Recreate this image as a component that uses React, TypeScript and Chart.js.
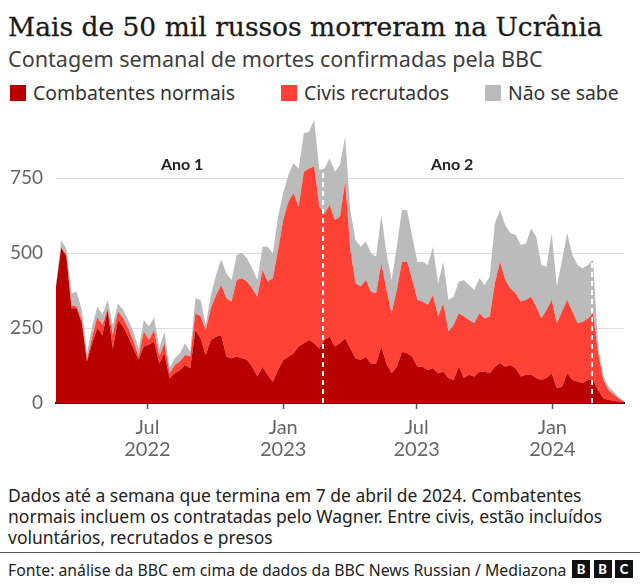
import React, { useEffect, useRef } from "react";
import { Chart, registerables } from "chart.js";

Chart.register(...registerables);

// ---- Data (weekly counts, weeks ending on Sundays) ----
const START_WEEK = "2022-02-27"; // first week-ending date; later points follow weekly

const combatentes = [
  388, 516, 490, 316, 316, 266, 138, 199, 249, 227, 310, 182, 277, 255, 221, 182, 144, 188, 194, 205,
  132, 166, 82, 99, 110, 127, 116, 243, 216, 160, 210, 221, 227, 155, 149, 155, 149, 144, 121, 88,
  121, 93, 71, 110, 143, 154, 166, 188, 199, 210, 199, 182, 210, 221, 188, 199, 216, 182, 149, 143,
  154, 132, 132, 188, 132, 99, 121, 171, 166, 154, 121, 121, 110, 116, 99, 105, 83, 77, 121, 83,
  94, 88, 105, 105, 99, 121, 133, 121, 127, 116, 88, 94, 94, 83, 77, 83, 99, 49, 55, 99,
  77, 72, 66, 77, 77, 43, 16, 10, 8, 5, 2,
];

const civisRecrutados = [
  0, 2, 5, 11, 5, 11, 6, 22, 37, 33, 3, 45, 28, 28, 28, 23, 11, 50, 16, 38,
  23, 33, 17, 28, 28, 33, 39, 56, 72, 83, 106, 139, 166, 194, 189, 255, 267, 260, 261, 266,
  322, 312, 345, 400, 467, 517, 533, 466, 572, 572, 589, 472, 422, 439, 422, 422, 522, 328, 250, 245,
  256, 239, 234, 278, 245, 200, 256, 300, 305, 256, 222, 217, 217, 244, 189, 227, 155, 183, 178, 205,
  183, 178, 194, 177, 189, 279, 338, 289, 255, 250, 250, 249, 260, 238, 205, 227, 244, 217, 250, 244,
  228, 194, 205, 205, 222, 123, 61, 33, 20, 10, 2,
];

const naoSeSabe = [
  4, 25, 20, 39, 50, 33, 22, 34, 35, 34, 30, 33, 27, 27, 28, 33, 27, 39, 45, 43,
  27, 39, 17, 22, 28, 39, 16, 50, 55, 17, 44, 67, 86, 83, 72, 83, 85, 78, 67, 56,
  78, 116, 83, 111, 89, 89, 100, 128, 128, 122, 155, 123, 150, 156, 161, 172, 150, 133, 144, 133,
  128, 128, 122, 161, 122, 111, 144, 172, 172, 144, 128, 133, 133, 161, 111, 139, 105, 94, 105, 122,
  116, 111, 117, 111, 133, 200, 172, 183, 184, 194, 189, 189, 228, 234, 178, 145, 223, 122, 172, 223,
  189, 194, 178, 178, 178, 22, 11, 12, 10, 5, 2,
];

const seriesNames = ["Combatentes normais", "Civis recrutados", "Não se sabe"];
const seriesColors = ["#b80000", "#ff4136", "#bbbbbb"];

const xTickDates = ["2022-07-01", "2023-01-01", "2023-07-01", "2024-01-01"];
const xTickLabels = [["Jul", "2022"], ["Jan", "2023"], ["Jul", "2023"], ["Jan", "2024"]];
const yTickValues = [0, 250, 500, 750];

const dividerDates = ["2023-02-24", "2024-02-24"];
const yearLabels = ["Ano 1", "Ano 2"];
const yearLabelDates = ["2022-08-17", "2023-08-18"];

const TITLE = "Mais de 50 mil russos morreram na Ucrânia";
const SUBTITLE = "Contagem semanal de mortes confirmadas pela BBC";
const NOTE_LINES = [
  "Dados até a semana que termina em 7 de abril de 2024. Combatentes",
  "normais incluem os contratadas pelo Wagner. Entre civis, estão incluídos",
  "voluntários, recrutados e presos",
];
const SOURCE = "Fonte: análise da BBC em cima de dados da BBC News Russian / Mediazona";

const SANS = '"Noto Sans", "Open Sans", sans-serif';
const TICK_SANS = 'Lato, "Noto Sans", sans-serif';
const SERIF = '"DejaVu Serif", "Liberation Serif", serif';

const DAY = 86400000;
const weekIndex = (d: string) => (Date.parse(d) - Date.parse(START_WEEK)) / (7 * DAY);
const total = (k: number) => combatentes[k] + civisRecrutados[k] + naoSeSabe[k];

const overlayPlugin = {
  id: "overlay",
  afterDatasetsDraw(chart: any) {
    const { ctx, scales } = chart;
    const x = scales.x;
    const y = scales.y;
    ctx.save();
    ctx.strokeStyle = "#ffffff";
    ctx.lineWidth = 2;
    ctx.setLineDash([5, 4]);
    dividerDates.forEach((d) => {
      const wi = weekIndex(d);
      const i0 = Math.floor(wi);
      const f = wi - i0;
      const top = total(i0) * (1 - f) + total(i0 + 1) * f;
      const px = Math.round(x.getPixelForValue(wi));
      ctx.beginPath();
      ctx.moveTo(px, y.getPixelForValue(0));
      ctx.lineTo(px, y.getPixelForValue(top));
      ctx.stroke();
    });
    ctx.setLineDash([]);
    ctx.font = `bold 16px ${TICK_SANS}`;
    ctx.fillStyle = "#222222";
    ctx.textAlign = "center";
    ctx.textBaseline = "middle";
    yearLabels.forEach((t, i) => {
      ctx.fillText(t, x.getPixelForValue(weekIndex(yearLabelDates[i])), y.getPixelForValue(793));
    });
    ctx.restore();
  },
};

function ChartCanvas() {
  const ref = useRef<HTMLCanvasElement | null>(null);
  useEffect(() => {
    if (!ref.current) return;
    const series = [combatentes, civisRecrutados, naoSeSabe];
    const chart = new Chart(ref.current, {
      type: "line",
      data: {
        datasets: series.map((vals, s) => ({
          label: seriesNames[s],
          data: vals.map((v, i) => ({ x: i, y: v })),
          backgroundColor: seriesColors[s],
          borderColor: seriesColors[s],
          borderWidth: 0,
          pointRadius: 0,
          tension: 0,
          fill: s === 0 ? "origin" : "-1",
        })),
      },
      options: {
        responsive: false,
        animation: false,
        devicePixelRatio: 1,
        layout: { padding: { left: 0, right: 16, top: 8, bottom: 0 } },
        plugins: { legend: { display: false }, tooltip: { enabled: false } },
        scales: {
          x: {
            type: "linear",
            min: 0,
            max: combatentes.length - 1,
            afterBuildTicks: (s: any) => {
              s.ticks = xTickDates.map((d) => ({ value: weekIndex(d) }));
            },
            afterFit: (s: any) => {
              s.height = 67;
              s.paddingLeft = 0;
              s.paddingRight = 0;
            },
            ticks: {
              callback: (_v: any, i: number) => xTickLabels[i],
              font: { family: TICK_SANS, size: 20, lineHeight: 22 / 20 },
              color: "#666666",
              padding: 8,
              maxRotation: 0,
              autoSkip: false,
            },
            grid: { drawOnChartArea: false, tickLength: 6, tickColor: "#555555", tickWidth: 1.5 },
            border: { color: "#222222", width: 2 },
          },
          y: {
            stacked: true,
            min: 0,
            max: 950,
            afterBuildTicks: (s: any) => {
              s.ticks = yTickValues.map((v) => ({ value: v }));
            },
            afterFit: (s: any) => {
              s.width = 56;
              s.paddingTop = 0;
              s.paddingBottom = 0;
            },
            ticks: {
              font: { family: TICK_SANS, size: 19 },
              color: "#666666",
              padding: 13,
            },
            grid: { color: "#dddddd", drawTicks: false, lineWidth: 1 },
            border: { display: false },
          },
        },
      },
      plugins: [overlayPlugin],
    });
    return () => chart.destroy();
  }, []);
  return (
    <canvas
      ref={ref}
      width={640}
      height={360}
      style={{ position: "absolute", left: 0, top: 110, width: 640, height: 360 }}
    />
  );
}

const abs = (left: number, top: number, extra: React.CSSProperties = {}): React.CSSProperties => ({
  position: "absolute",
  left,
  top,
  whiteSpace: "nowrap",
  ...extra,
});

export default function App() {
  const legendSquares = [10, 281, 485];
  const legendTexts = [33, 304, 508];
  return (
    <div
      style={{
        position: "absolute",
        left: 0,
        top: 0,
        width: 640,
        height: 585,
        background: "#ffffff",
        overflow: "hidden",
        fontFamily: SANS,
      }}
    >
      <div
        style={abs(8, 11, {
          fontFamily: SERIF,
          fontSize: 26.5,
          lineHeight: "32px",
          color: "#1a1a1a",
          WebkitTextStroke: "0.3px #1a1a1a",
        })}
      >
        {TITLE}
      </div>
      <div style={abs(8, 47, { fontSize: 21.6, lineHeight: "24px", color: "#3f3f3f" })}>{SUBTITLE}</div>
      {seriesNames.map((n, i) => (
        <React.Fragment key={n}>
          <div
            style={abs(legendSquares[i], 85, { width: 16, height: 16, background: seriesColors[i] })}
          />
          <div style={abs(legendTexts[i], 82, { fontSize: 19.4, lineHeight: "22px", color: "#333333" })}>
            {n}
          </div>
        </React.Fragment>
      ))}
      <ChartCanvas />
      {NOTE_LINES.map((l, i) => (
        <div key={i} style={abs(8, 485 + i * 21, { fontSize: 17.5, lineHeight: "21px", color: "#222222" })}>
          {l}
        </div>
      ))}
      <div style={abs(0, 552, { width: 640, height: 1, background: "#555555" })} />
      <div style={abs(8, 560, { fontSize: 15.8, lineHeight: "20px", color: "#222222" })}>{SOURCE}</div>
      {["B", "B", "C"].map((c, i) => (
        <div
          key={i}
          style={abs(572 + i * 21.5, 560, {
            width: 18,
            height: 18,
            background: "#111111",
            color: "#ffffff",
            fontWeight: 900,
            fontSize: 13,
            lineHeight: "18px",
            textAlign: "center",
            fontFamily: TICK_SANS,
          })}
        >
          {c}
        </div>
      ))}
    </div>
  );
}
